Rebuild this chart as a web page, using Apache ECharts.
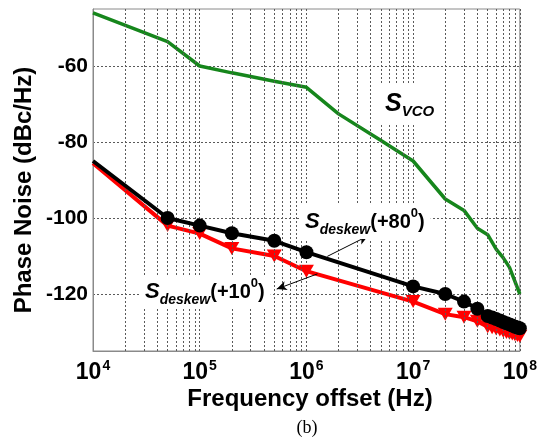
<!DOCTYPE html>
<html><head><meta charset="utf-8">
<script src="https://cdn.jsdelivr.net/npm/echarts@6/dist/echarts.min.js"></script>
<style>html,body{margin:0;padding:0;background:#fff}#c{width:540px;height:438px}</style>
</head><body><div id="c"></div>
<script>
const FONT = '"Liberation Sans", Arial, Helvetica, sans-serif';
// S_VCO
const freqVco = [1e4, 5e4, 1e5, 2e5, 5e5, 1e6, 2e6, 5e6, 1e7, 2e7, 3e7, 4e7, 5e7, 6e7, 7e7, 8e7, 1e8];
const noiseVco = [-46, -53.6, -60, -61.8, -64, -65.6, -72.6, -79.6, -85, -95, -98, -102.7, -104.4, -108.2, -110.5, -113, -120];
// S_deskew
const freqDeskew = [1e4, 5e4, 1e5, 2e5, 5e5, 1e6, 1e7, 2e7, 3e7, 4e7, 5e7, 5.5e7, 6e7, 6.5e7, 7e7, 7.5e7, 8e7, 8.5e7, 9e7, 9.5e7, 1e8];
const noiseDeskew80 = [-85, -100, -102, -104, -106, -109, -118, -120, -122, -123.9, -125.8, -126.2, -126.6, -127, -127.4, -127.7, -128, -128.3, -128.6, -128.8, -129];
const noiseDeskew10 = [-85.6, -102, -104.1, -108, -110, -114, -122, -125.3, -126.1, -127.2, -128.6, -128.9, -129.2, -129.5, -129.8, -130.1, -130.3, -130.5, -130.7, -130.9, -131.1];
// axes
const yTickValues = [-120, -100, -80, -60];
const decades = [1e4, 1e5, 1e6, 1e7];
const minorMultipliers = [2, 3, 4, 5, 6, 7, 8, 9];
// annotation arrows [from, to] in data units
const arrow80 = [[1.57e6, -110.1], [3.79e6, -104.7]];
const arrow10 = [[1.27e6, -114.7], [5.27e5, -118.7]];

const gridVals = [];
decades.forEach(d => minorMultipliers.forEach(m => gridVals.push(d * m)));

function pairs(xs, ys, noFirstSymbol) {
  return xs.map((x, i) => (noFirstSymbol && i === 0) ? { value: [x, ys[i]], symbol: 'none' } : [x, ys[i]]);
}

const chart = echarts.init(document.getElementById('c'), null, { renderer: 'canvas' });
const gridLineStyle = { color: '#5a5a5a', type: [2, 2], width: 1 };
const labelRich = {
  s: { font: 'italic bold 22px ' + FONT, fill: '#000', lineHeight: 30 },
  sub: { font: 'italic bold 14px ' + FONT, fill: '#000', verticalAlign: 'bottom' },
  m: { font: 'bold 20px ' + FONT, fill: '#000', lineHeight: 30 },
  sup: { font: 'bold 13px ' + FONT, fill: '#000', verticalAlign: 'top' }
};

const option = {
  backgroundColor: '#fff',
  animation: false,
  grid: { left: 93, right: 12, top: 9, bottom: 87, show: true, borderColor: '#8a8a8a', borderWidth: 1, backgroundColor: 'transparent' },
  xAxis: {
    type: 'log', logBase: 10, min: 1e4, max: 1e8,
    axisLine: { lineStyle: { color: '#8a8a8a' } },
    axisTick: { show: false },
    splitLine: { show: true, lineStyle: gridLineStyle },
    axisLabel: {
      margin: 8, color: '#000',
      formatter: v => '{b|10}{sup|' + Math.round(Math.log10(v)) + '}',
      rich: {
        b: { fontFamily: FONT, fontWeight: 'bold', fontSize: 23, color: '#000', lineHeight: 28 },
        sup: { fontFamily: FONT, fontWeight: 'bold', fontSize: 14, color: '#000', verticalAlign: 'top', padding: [0, 0, 0, 1] }
      }
    }
  },
  yAxis: {
    type: 'value', min: -135, max: -45,
    axisLine: { show: true, lineStyle: { color: '#8a8a8a' } },
    axisTick: { show: false, customValues: yTickValues },
    splitLine: { show: true, lineStyle: gridLineStyle },
    axisLabel: { customValues: yTickValues, margin: 5, color: '#000', fontFamily: FONT, fontWeight: 'bold', fontSize: 21 }
  },
  series: [
    {
      type: 'line', data: [], silent: true, z: 1,
      markLine: {
        silent: true, symbol: ['none', 'none'], label: { show: false },
        lineStyle: gridLineStyle,
        data: gridVals.map(v => ({ xAxis: v }))
      }
    },
    {
      name: 'S_VCO', type: 'line', data: pairs(freqVco, noiseVco), showSymbol: false,
      lineStyle: { color: '#16861c', width: 3.5 }, itemStyle: { color: '#16861c' }, z: 3
    },
    {
      name: 'S_deskew(+10)', type: 'line', data: pairs(freqDeskew, noiseDeskew10, true),
      symbol: 'triangle', symbolSize: [15, 13], symbolRotate: 180,
      lineStyle: { color: '#ff0000', width: 4 }, itemStyle: { color: '#ff0000' }, z: 4
    },
    {
      name: 'S_deskew(+80)', type: 'line', data: pairs(freqDeskew, noiseDeskew80, true),
      symbol: 'circle', symbolSize: 14,
      lineStyle: { color: '#000', width: 4 }, itemStyle: { color: '#000' }, z: 5,
      markLine: {
        silent: true, symbol: ['none', 'arrow'], symbolSize: [7, 10], label: { show: false },
        lineStyle: { color: '#000', width: 1, type: 'solid' },
        data: [
          [{ coord: arrow80[0] }, { coord: arrow80[1] }],
          [{ coord: arrow10[0] }, { coord: arrow10[1] }]
        ]
      }
    }
  ],
  graphic: [
    {
      type: 'text', x: 24, y: 190, rotation: Math.PI / 2, z: 10,
      style: { text: 'Phase Noise (dBc/Hz)', fill: '#000', font: 'bold 24px ' + FONT, align: 'center', verticalAlign: 'middle' }
    },
    {
      type: 'text', x: 310, y: 399, z: 10,
      style: { text: 'Frequency offset (Hz)', fill: '#000', font: 'bold 24px ' + FONT, align: 'center', verticalAlign: 'middle' }
    },
    {
      type: 'text', x: 307, y: 428, z: 10,
      style: { text: '(b)', fill: '#000', font: '18px "Liberation Serif", "Times New Roman", serif', align: 'center', verticalAlign: 'middle' }
    },
    {
      type: 'text', x: 377, y: 104, z: 10,
      style: {
        text: '{s|S}{sub|VCO}', align: 'left', verticalAlign: 'middle',
        backgroundColor: '#fff', padding: [6, 8, 6, 8],
        rich: {
          s: { font: 'italic bold 25px ' + FONT, fill: '#000', lineHeight: 30 },
          sub: { font: 'italic bold 15px ' + FONT, fill: '#000', verticalAlign: 'bottom' }
        }
      }
    },
    {
      type: 'text', x: 299, y: 222, z: 10,
      style: {
        text: '{s|S}{sub|deskew}{m|(+80}{sup|0}{m|)}', align: 'left', verticalAlign: 'middle',
        backgroundColor: '#fff', padding: [2, 6, 2, 6], rich: labelRich
      }
    },
    {
      type: 'text', x: 139, y: 292, z: 10,
      style: {
        text: '{s|S}{sub|deskew}{m|(+10}{sup|0}{m|)}', align: 'left', verticalAlign: 'middle',
        backgroundColor: '#fff', padding: [2, 6, 2, 6], rich: labelRich
      }
    }
  ]
};
chart.setOption(option);
</script>
</body></html>
